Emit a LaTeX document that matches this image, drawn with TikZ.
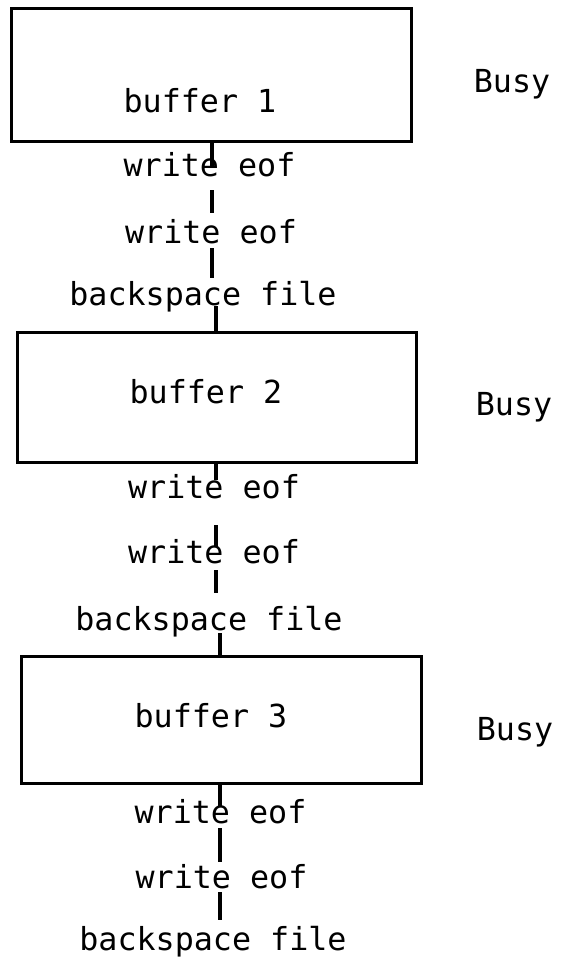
\documentclass[tikz,border=0pt]{standalone}
\usepackage{fontspec}
\usetikzlibrary{calc}
\newfontfamily\typer{DejaVu Sans Mono}

\tikzset{
  bufbox/.style={draw, line width=3pt, inner sep=0pt},
  lbl/.style={font=\typer\fontsize{31.7}{38}\selectfont, inner sep=0pt, anchor=base},
  link/.style={line width=3.6pt},
}

\begin{document}
\begin{tikzpicture}[x=1pt, y=-1pt]
  \useasboundingbox (0,0) rectangle (562,961);

  % columns carrying the vertical links of each block
  \coordinate (col1) at (212,0);
  \coordinate (col2) at (216,0);
  \coordinate (col3) at (220,0);

  % the three buffers
  \node[bufbox, minimum width=400pt, minimum height=133pt] (box1) at (211,74.5) {};
  \node[bufbox, minimum width=399pt, minimum height=130pt] (box2) at (216.5,397) {};
  \node[bufbox, minimum width=400pt, minimum height=127pt] (box3) at (221,719.5) {};

  % block 1
  \node[lbl] (buf1) at (200,112) {buffer 1};
  \node[lbl] (busy1) at (512,92) {Busy};
  \node[lbl] (we1a) at (209.5,176) {write eof};
  \node[lbl] (we1b) at (211,243) {write eof};
  \node[lbl] (bs1) at (203,305) {backspace file};

  % block 2
  \node[lbl] (buf2) at (206,403) {buffer 2};
  \node[lbl] (busy2) at (514,415) {Busy};
  \node[lbl] (we2a) at (214,498) {write eof};
  \node[lbl] (we2b) at (214,563) {write eof};
  \node[lbl] (bs2) at (209,630) {backspace file};

  % block 3
  \node[lbl] (buf3) at (211,727) {buffer 3};
  \node[lbl] (busy3) at (515,740) {Busy};
  \node[lbl] (we3a) at (220.5,823) {write eof};
  \node[lbl] (we3b) at (221.5,888) {write eof};
  \node[lbl] (bs3) at (213,950) {backspace file};

  % links of block 1
  \draw[link] (box1.south -| col1) -- ($(we1a.base -| col1)+(0,-9)$);
  \draw[link] ($(we1a.base -| col1)+(0,14)$) -- ($(we1b.base -| col1)+(0,-30)$);
  \draw[link] ($(we1b.base -| col1)+(0,5)$) -- ($(bs1.base -| col1)+(0,-27)$);
  \draw[link] ($(bs1.base -| col2)+(0,1)$) -- (box2.north -| col2);

  % links of block 2
  \draw[link] (box2.south -| col2) -- ($(we2a.base -| col2)+(0,-18)$);
  \draw[link] ($(we2a.base -| col2)+(0,27)$) -- ($(we2b.base -| col2)+(0,-16)$);
  \draw[link] ($(we2b.base -| col2)+(0,7)$) -- ($(bs2.base -| col2)+(0,-37)$);
  \draw[link] ($(bs2.base -| col3)+(0,3)$) -- (box3.north -| col3);

  % links of block 3
  \draw[link] (box3.south -| col3) -- ($(we3a.base -| col3)+(0,-16)$);
  \draw[link] ($(we3a.base -| col3)+(0,5)$) -- ($(we3b.base -| col3)+(0,-26)$);
  \draw[link] ($(we3b.base -| col3)+(0,4)$) -- ($(bs3.base -| col3)+(0,-30)$);
\end{tikzpicture}
\end{document}
